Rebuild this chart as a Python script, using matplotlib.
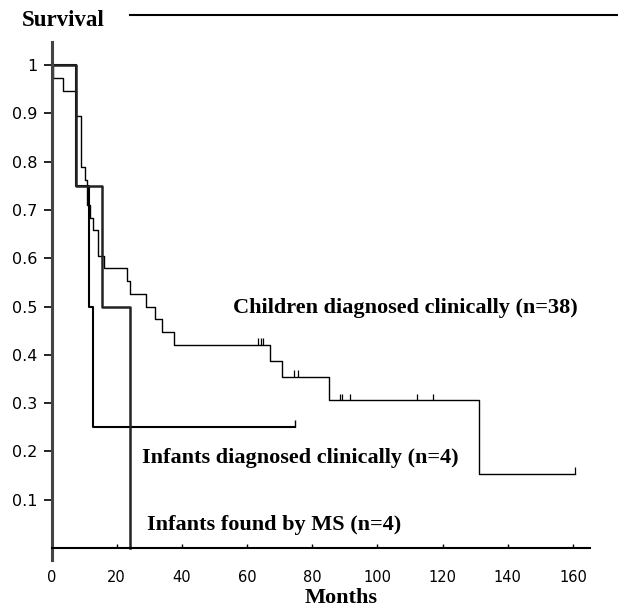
import numpy as np
import matplotlib
matplotlib.use('Agg')
import matplotlib.pyplot as plt
from matplotlib.lines import Line2D

# Kaplan-Meier curves (months, survival)
child_t = [0, 0.5, 3.5, 7.5, 9, 10.3, 11, 11.8, 12.8, 14.3, 16, 23.2, 24, 29, 31.8, 33.9, 37.6, 67, 70.7, 85, 131]
child_s = [1, 0.974, 0.947, 0.895, 0.789, 0.763, 0.711, 0.684, 0.658, 0.605, 0.579, 0.553, 0.526, 0.5, 0.474, 0.447, 0.421, 0.387, 0.354, 0.306, 0.153]
child_end = 160.7
child_cens_t = [63.3, 64.2, 65, 74.5, 75.5, 88.5, 89.2, 91.6, 112, 117, 160.7]
child_cens_s = [0.421, 0.421, 0.421, 0.354, 0.354, 0.306, 0.306, 0.306, 0.306, 0.306, 0.153]

inf_t = [0, 7.5, 11.5, 12.7]
inf_s = [1, 0.75, 0.5, 0.25]
inf_end = 74.7

ms_t = [0, 7.5, 15.6, 24]
ms_s = [1, 0.75, 0.5, 0]

labels = ['Children diagnosed clinically (n=38)', 'Infants diagnosed clinically (n=4)', 'Infants found by MS (n=4)']
label_x = [55.7, 27.8, 29.3]
label_y = [0.487, 0.176, 0.037]

yticks = [0.1, 0.2, 0.3, 0.4, 0.5, 0.6, 0.7, 0.8, 0.9, 1.0]
ytick_labels = ['0.1', '0.2', '0.3', '0.4', '0.5', '0.6', '0.7', '0.8', '0.9', '1']
xticks = [0, 20, 40, 60, 80, 100, 120, 140, 160]

serif = ['Liberation Serif', 'DejaVu Serif']

fig = plt.figure(figsize=(6.18, 6.14), dpi=100)
ax = fig.add_axes([51.5/618, 1-560/614, 538.5/618, 518/614])

# step curves
ax.step(child_t + [child_end], child_s + [child_s[-1]], where='post', color='black', lw=1.0)
ax.step(inf_t + [inf_end], inf_s + [inf_s[-1]], where='post', color='black', lw=1.5)
ax.step(ms_t, ms_s, where='post', color='#222222', lw=1.8)

# censor marks
ax.vlines(child_cens_t, child_cens_s, np.array(child_cens_s) + 0.014, color='black', lw=0.9)
ax.vlines([inf_end], [inf_s[-1]], [inf_s[-1] + 0.016], color='black', lw=1.0)

for txt, lx, ly in zip(labels, label_x, label_y):
    ax.text(lx, ly, txt, fontsize=16, fontweight='bold', family=serif, va='baseline', ha='left')

ax.set_xlim(0, 165.2)
ax.set_ylim(-0.0248, 1.048)
ax.spines['top'].set_visible(False)
ax.spines['right'].set_visible(False)
ax.spines['bottom'].set_position(('data', 0))
ax.spines['left'].set_linewidth(2.2)
ax.spines['left'].set_color('#444444')
ax.spines['bottom'].set_linewidth(1.5)

ax.set_yticks(yticks)
ax.set_yticklabels(ytick_labels)
ax.tick_params(axis='y', direction='out', length=6, width=1.2, pad=4, labelsize=11.5)
ax.set_xticks(xticks)
ax.tick_params(axis='x', direction='in', length=3, width=1.0, pad=16, labelsize=10.5)

fig.text(341/618, 1-603/614, 'Months', fontsize=16, fontweight='bold', family=serif, ha='center', va='baseline')
fig.text(63/618, 1-26.5/614, 'Survival', fontsize=16.5, fontweight='bold', family=serif, ha='center', va='baseline')
fig.add_artist(Line2D([130/618, 1.0], [1-15/614, 1-15/614], color='black', lw=1.5, transform=fig.transFigure))

plt.savefig('out.png', dpi=100)
